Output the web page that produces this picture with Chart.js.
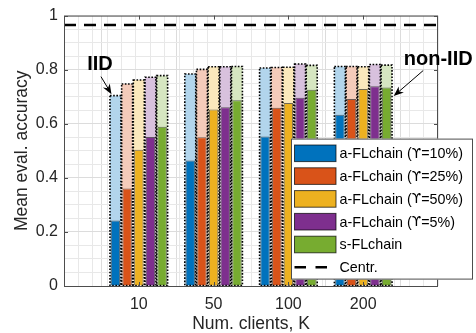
<!DOCTYPE html>
<html>
<head>
<meta charset="utf-8">
<script src="https://cdn.jsdelivr.net/npm/chart.js@4"></script>
<style>
  body { margin: 0; background: #fff; }
  #wrap { width: 476px; height: 333px; }
</style>
</head>
<body>
<div id="wrap"><canvas id="accChart" width="476" height="333"></canvas></div>
<script>
// DATA
const clientLabels = ['', '10', '50', '100', '200', ''];
const seriesNames = ['a-FLchain (\u03D2=10%)', 'a-FLchain (\u03D2=25%)', 'a-FLchain (\u03D2=50%)', 'a-FLchain (\u03D2=5%)', 's-FLchain'];

// IID accuracy (light, dotted bars)
const iid10 = [0.704, 0.784, 0.806, 0.812];
const iid25 = [0.747, 0.801, 0.808, 0.812];
const iid50 = [0.762, 0.811, 0.809, 0.811];
const iid5  = [0.772, 0.811, 0.821, 0.819];
const iidS  = [0.778, 0.812, 0.816, 0.817];

// non-IID accuracy (solid bars)
const non10 = [0.242, 0.464, 0.553, 0.633];
const non25 = [0.361, 0.550, 0.659, 0.692];
const non50 = [0.504, 0.653, 0.677, 0.729];
const non5  = [0.551, 0.661, 0.696, 0.739];
const nonS  = [0.589, 0.687, 0.726, 0.734];

const centrAcc = 0.965;

const solidColors = ['#0072BD', '#D95319', '#EDB120', '#7E2F8E', '#77AC30'];
const lightColors = ['#b2d5ec', '#f4cbba', '#fae8bc', '#d8c1dd', '#d6e6c1'];

const FONT = "'Liberation Sans', Arial, sans-serif";
const TXT = '#262626';

Chart.defaults.font.family = FONT;

const iidSets = [iid10, iid25, iid50, iid5, iidS];
const nonSets = [non10, non25, non50, non5, nonS];
const pad = arr => [null, ...arr, null];

const datasets = [];
// solid bars first so they get drawn on top of the light ones
nonSets.forEach((vals, i) => {
  datasets.push({
    type: 'bar', label: seriesNames[i] + ' non-IID', data: pad(vals), stack: 's' + i, order: 1,
    backgroundColor: solidColors[i], borderColor: 'rgba(0,0,0,0.55)', borderWidth: 1,
    borderSkipped: 'bottom', categoryPercentage: 0.78, barPercentage: 0.8
  });
});
iidSets.forEach((vals, i) => {
  datasets.push({
    type: 'bar', label: seriesNames[i] + ' IID', data: pad(vals), stack: 's' + i, order: 2,
    backgroundColor: lightColors[i], borderWidth: 0, dotted: true,
    categoryPercentage: 0.78, barPercentage: 0.94
  });
});
datasets.push({
  type: 'line', label: 'Centr.', data: clientLabels.map(() => centrAcc), order: 0,
  borderColor: '#000', borderWidth: 2.5, borderDash: [12, 8], pointRadius: 0, fill: false
});

function drawArrow(ctx, x0, y0, x1, y1) {
  const a = Math.atan2(y1 - y0, x1 - x0);
  const c = Math.cos(a), s = Math.sin(a);
  ctx.beginPath();
  ctx.moveTo(x0, y0);
  ctx.lineTo(x1 - 6 * c, y1 - 6 * s);
  ctx.stroke();
  ctx.beginPath();
  ctx.moveTo(x1, y1);
  ctx.lineTo(x1 - 10 * c + 4 * s, y1 - 10 * s - 4 * c);
  ctx.lineTo(x1 - 7 * c, y1 - 7 * s);
  ctx.lineTo(x1 - 10 * c - 4 * s, y1 - 10 * s + 4 * c);
  ctx.closePath();
  ctx.fill();
}

// legend label: the upsilon symbol comes from DejaVu, which has the hooked glyph
function legendText(ctx, text, x, y) {
  const parts = text.split('\u03D2');
  const base = '14.3px ' + FONT;
  const sym = '13.5px "DejaVu Sans"';
  ctx.font = base;
  ctx.fillText(parts[0], x, y);
  if (parts.length < 2) return;
  let cx = x + ctx.measureText(parts[0]).width;
  ctx.font = sym;
  ctx.fillText('\u03D2', cx, y);
  cx += ctx.measureText('\u03D2').width;
  ctx.font = base;
  ctx.fillText(parts[1], cx, y);
}

const overlay = {
  id: 'overlay',
  afterDatasetsDraw(chart) {
    const ctx = chart.ctx;
    ctx.save();
    ctx.setLineDash([1.6, 1.6]);
    ctx.lineWidth = 1.6;
    ctx.strokeStyle = '#000';
    chart.data.datasets.forEach((ds, i) => {
      if (!ds.dotted) return;
      chart.getDatasetMeta(i).data.forEach((bar, j) => {
        if (ds.data[j] == null) return;
        const p = bar.getProps(['x', 'y', 'base', 'width'], true);
        ctx.strokeRect(p.x - p.width / 2, p.y, p.width, p.base - p.y);
      });
    });
    ctx.restore();
  },
  afterDraw(chart) {
    const ctx = chart.ctx;
    const a = chart.chartArea;
    const ys = chart.scales.y, xs = chart.scales.x;
    ctx.save();

    // axes box + inward ticks
    ctx.strokeStyle = '#4d4d4d';
    ctx.lineWidth = 1;
    ctx.strokeRect(a.left + 0.5, a.top + 0.5, a.right - a.left - 1, a.bottom - a.top);
    ctx.beginPath();
    for (let v = 0; v <= 1.001; v += 0.2) {
      const py = Math.round(ys.getPixelForValue(v)) + 0.5;
      ctx.moveTo(a.left, py); ctx.lineTo(a.left + 4, py);
      ctx.moveTo(a.right, py); ctx.lineTo(a.right - 4, py);
    }
    for (let k = 1; k <= 4; k++) {
      const px = Math.round(xs.getPixelForValue(k)) + 0.5;
      ctx.moveTo(px, a.bottom); ctx.lineTo(px, a.bottom - 4);
      ctx.moveTo(px, a.top); ctx.lineTo(px, a.top + 4);
    }
    ctx.stroke();

    // IID / non-IID annotations
    ctx.fillStyle = '#000';
    ctx.strokeStyle = '#000';
    ctx.lineWidth = 1;
    ctx.font = 'bold 20px ' + FONT;
    ctx.textAlign = 'center';
    ctx.textBaseline = 'middle';
    const iidBar = chart.getDatasetMeta(5).data[1].getProps(['x', 'y', 'width'], true);
    const tx = iidBar.x - iidBar.width / 2, ty = iidBar.y;
    ctx.fillText('IID', tx - 10, ty - 31);
    drawArrow(ctx, tx - 9, ty - 19, tx + 1.5, ty - 1.5);

    const nonBar = chart.getDatasetMeta(4).data[4].getProps(['x', 'y', 'width'], true);
    const nx = nonBar.x + nonBar.width / 2, ny = nonBar.y;
    ctx.fillText('non-IID', nx + 47, ny - 28);
    drawArrow(ctx, nx + 32, ny - 17, nx + 2.5, ny + 8.5);

    // legend box
    const lx = a.right - 147, ly = a.top + 123, lw = 182, lh = 141;
    ctx.fillStyle = '#fff';
    ctx.fillRect(lx, ly, lw, lh);
    ctx.strokeStyle = '#4d4d4d';
    ctx.strokeRect(lx + 0.5, ly + 0.5, lw - 1, lh - 1);
    ctx.textAlign = 'left';
    const rowH = 22.8;
    seriesNames.forEach((name, i) => {
      const cy = ly + 14.7 + i * rowH;
      ctx.fillStyle = solidColors[i];
      ctx.fillRect(lx + 3.5, cy - 8.3, 41.5, 16.6);
      ctx.strokeStyle = 'rgba(0,0,0,0.7)';
      ctx.strokeRect(lx + 3.5, cy - 8.3, 41.5, 16.6);
      ctx.fillStyle = '#000';
      legendText(ctx, name, lx + 48.5, cy + 1);
    });
    const cy = ly + 14.7 + 5 * rowH;
    ctx.strokeStyle = '#000';
    ctx.lineWidth = 2.5;
    ctx.setLineDash([11.5, 9.5]);
    ctx.beginPath();
    ctx.moveTo(lx + 3.5, cy); ctx.lineTo(lx + 45, cy);
    ctx.stroke();
    ctx.setLineDash([]);
    ctx.fillStyle = '#000';
    legendText(ctx, 'Centr.', lx + 48.5, cy + 1);

    ctx.restore();
  }
};

const ctx = document.getElementById('accChart').getContext('2d');
const accChart = new Chart(ctx, {
  type: 'bar',
  data: { labels: clientLabels, datasets: datasets },
  options: {
    responsive: false,
    animation: false,
    layout: { padding: { top: 14, right: 38, left: 0, bottom: 0 } },
    plugins: { legend: { display: false }, tooltip: { enabled: false } },
    scales: {
      x: {
        type: 'category', offset: false, position: 'bottom',
        afterFit: s => { s.height = 47; },
        grid: { color: '#dcdcdc', drawTicks: false },
        border: { display: false },
        ticks: { padding: 9, autoSkip: false, maxRotation: 0, color: TXT, font: { size: 16 } },
        title: { display: true, text: 'Num. clients, K', color: TXT, font: { size: 17.5, lineHeight: 1 }, padding: { top: 0, bottom: 0 } }
      },
      x2: {
        type: 'linear', position: 'bottom', min: 0, max: 5,
        afterFit: s => { s.height = 0; },
        grid: { color: '#e8e8e8', drawTicks: false },
        border: { display: false },
        ticks: { display: false, stepSize: 0.2 }
      },
      y: {
        min: 0, max: 1, stacked: false,
        afterFit: s => { s.width = 64; },
        grid: {
          drawTicks: false,
          color: c => (Math.round(c.tick.value * 100) % 20 === 0 ? '#dcdcdc' : '#e8e8e8')
        },
        border: { display: false },
        ticks: {
          stepSize: 0.05, autoSkip: false, padding: 6, color: TXT, font: { size: 16 },
          callback: v => (Math.round(v * 100) % 20 === 0 ? String(+v.toFixed(1)) : '')
        },
        title: { display: true, text: 'Mean eval. accuracy', color: TXT, font: { size: 17.5, lineHeight: 1.2 }, padding: { top: 12, bottom: 0 } }
      }
    }
  },
  plugins: [overlay]
});
</script>
</body>
</html>
